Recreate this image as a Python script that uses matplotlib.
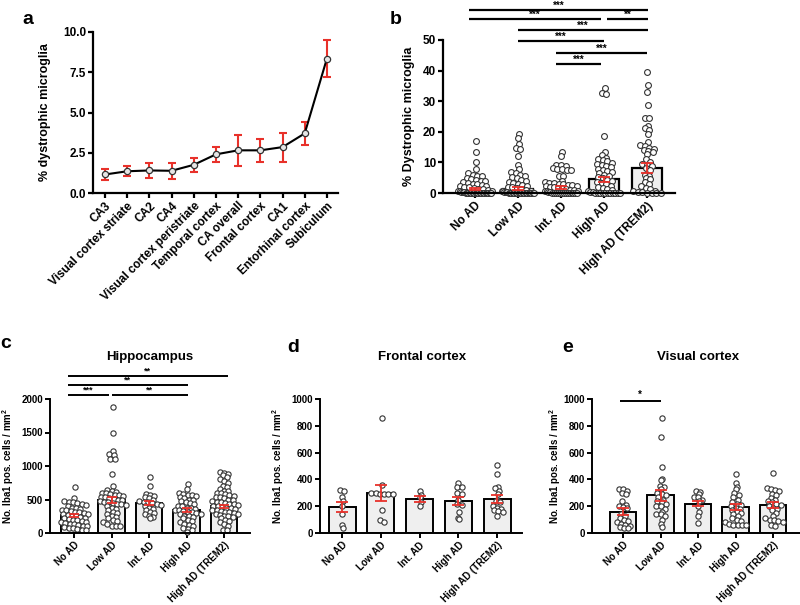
import numpy as np
import matplotlib.pyplot as plt

plt.rcParams['font.family'] = 'Liberation Sans'
plt.rcParams['font.weight'] = 'bold'
plt.rcParams['axes.labelweight'] = 'bold'
plt.rcParams['mathtext.fontset'] = 'custom'
plt.rcParams['mathtext.rm'] = 'Liberation Sans:bold'
plt.rcParams['mathtext.bf'] = 'Liberation Sans:bold'
plt.rcParams['mathtext.default'] = 'rm'

RED = '#e8312a'
BARFACE = '#efefef'

# ---- panel a: dystrophic microglia by region
regions = ['CA3', 'Visual cortex striate', 'CA2', 'CA4', 'Visual cortex peristriate',
           'Temporal cortex', 'CA overall', 'Frontal cortex', 'CA1', 'Entorhinal cortex', 'Subiculum']
region_mean = [1.15, 1.35, 1.4, 1.38, 1.75, 2.4, 2.65, 2.65, 2.85, 3.7, 8.35]
region_sem = [0.37, 0.3, 0.47, 0.5, 0.45, 0.47, 0.95, 0.7, 0.9, 0.7, 1.15]

groups = ['No AD', 'Low AD', 'Int. AD', 'High AD', 'High AD (TREM2)']

# ---- panel b: % dystrophic microglia per case
dys_noad = [17.0, 13.3, 10.2, 8.0, 6.4, 6.0, 5.7, 5.4, 5.0, 4.6, 4.2, 4.0, 3.8, 3.6, 3.3, 3.0,
            2.8, 2.6, 2.4, 2.2, 2.0, 1.8, 1.6, 1.4, 1.2, 1.0, 0.8, 0.6, 0.5, 0.4, 0.3, 0.2, 0.1,
            0.0, 0.0, 0.0, 0.0, 0.0, 0.0, 0.0, 0.0, 0.0, 0.0, 0.0, 0.0, 0.0, 0.0, 0.0, 0.0, 0.0, 0.0]
dys_low = [19.3, 18.0, 16.0, 14.6, 14.4, 12.2, 9.0, 8.0, 6.7, 6.4, 6.0, 5.5, 5.2, 4.8, 4.4, 4.0,
           3.6, 3.2, 3.0, 2.7, 2.4, 2.1, 1.8, 1.5, 1.2, 1.0, 0.8, 0.6, 0.5, 0.4, 0.3, 0.2, 0.1,
           0.0, 0.0, 0.0, 0.0, 0.0, 0.0, 0.0, 0.0, 0.0, 0.0, 0.0, 0.0, 0.0, 0.0, 0.0, 0.0, 0.0, 0.0]
dys_int = [13.5, 12.0, 9.2, 9.0, 8.8, 8.2, 7.9, 7.7, 7.5, 7.4, 5.6, 5.4, 4.0, 3.6, 3.4, 3.2,
           3.0, 2.9, 2.7, 2.5, 2.4, 2.2, 2.0, 1.9, 1.7, 1.5, 1.3, 1.1, 1.0, 0.8, 0.6, 0.5, 0.3,
           0.2, 0.0, 0.0, 0.0, 0.0, 0.0, 0.0, 0.0, 0.0, 0.0, 0.0, 0.0, 0.0, 0.0, 0.0]
dys_high = [34.3, 32.7, 32.5, 18.5, 13.5, 12.3, 11.6, 11.2, 10.8, 10.3, 9.9, 9.5, 9.1, 8.8, 8.5,
            8.0, 7.6, 7.2, 6.8, 6.4, 6.0, 5.6, 5.2, 4.8, 4.4, 4.0, 3.6, 3.2, 2.8, 2.4, 2.0, 1.6,
            1.2, 0.9, 0.6, 0.4, 0.2, 0.0, 0.0, 0.0, 0.0, 0.0, 0.0, 0.0, 0.0, 0.0, 0.0, 0.0]
dys_trem = [39.5, 35.3, 33.0, 28.8, 24.6, 24.4, 22.0, 21.2, 20.5, 19.2, 16.7, 15.6, 15.2, 14.6,
            14.3, 14.0, 13.8, 13.4, 12.6, 11.2, 10.2, 9.6, 9.2, 8.8, 8.2, 7.6, 6.0, 5.6, 5.0,
            4.6, 3.6, 3.0, 2.2, 1.6, 1.2, 0.8, 0.6, 0.4, 0.2, 0.0, 0.0, 0.0, 0.0]
dys_mean = [1.3, 1.4, 1.8, 4.5, 8.2]
dys_sem = [0.35, 0.4, 0.35, 0.8, 1.6]
dys_sig = [(0, 4, '***'), (0, 3, '***'), (3, 4, '**'), (1, 4, '***'),
           (1, 3, '***'), (2, 4, '***'), (2, 3, '***')]

# ---- panel c: hippocampus Iba1 density
hip_noad = [690, 520, 480, 470, 460, 450, 430, 420, 400, 380, 370, 360, 350, 340, 330, 320, 310,
            300, 290, 280, 270, 260, 250, 240, 230, 220, 210, 200, 190, 180, 170, 160, 150, 140,
            130, 120, 110, 100, 90, 80, 70, 60, 50, 40]
hip_low = [1880, 1500, 1230, 1180, 1170, 1110, 1100, 880, 700, 640, 620, 610, 600, 590, 580, 570,
           560, 550, 540, 530, 520, 510, 500, 490, 480, 470, 460, 450, 440, 430, 420, 400, 380,
           360, 340, 320, 300, 280, 260, 240, 220, 200, 180, 160, 140, 110, 100, 100]
hip_int = [840, 700, 580, 560, 550, 540, 520, 500, 480, 470, 460, 450, 440, 420, 400, 380, 360,
           340, 320, 300, 280, 260, 240, 220]
hip_high = [730, 650, 600, 580, 570, 560, 550, 540, 520, 500, 490, 480, 470, 450, 430, 410, 400,
            380, 370, 360, 350, 340, 330, 320, 310, 300, 290, 280, 260, 250, 240, 220, 200, 180,
            160, 140, 120, 100, 80, 60, 40, 20]
hip_trem = [910, 900, 880, 860, 830, 800, 770, 750, 700, 680, 650, 630, 620, 600, 590, 580, 560,
            550, 540, 530, 520, 500, 490, 480, 470, 460, 450, 440, 430, 420, 410, 400, 390, 380,
            370, 360, 350, 340, 330, 320, 310, 300, 290, 280, 270, 260, 250, 240, 220, 200, 180,
            160, 140, 100, 50, 40]
hip_mean = [265, 490, 450, 345, 400]
hip_sem = [25, 45, 35, 25, 20]
hip_sig = [(0, 4, '**'), (0, 3, '**'), (0, 1, '***'), (1, 3, '**')]

# ---- panel d: frontal cortex
fro_noad = [320, 310, 270, 240, 200, 140, 60, 35]
fro_low = [855, 360, 300, 295, 292, 290, 290, 288, 170, 95, 85]
fro_int = [315, 280, 270, 230, 205]
fro_high = [375, 345, 340, 300, 290, 250, 220, 210, 160, 115, 105]
fro_trem = [505, 440, 340, 335, 310, 290, 250, 240, 230, 200, 190, 180, 170, 165, 160, 130]
fro_mean = [195, 300, 255, 240, 255]
fro_sem = [38, 60, 20, 30, 30]

# ---- panel e: visual cortex
vis_noad = [330, 325, 310, 300, 290, 240, 210, 200, 195, 185, 140, 130, 110, 100, 90, 80, 70,
            60, 50, 45, 40, 40]
vis_low = [855, 715, 495, 405, 395, 350, 340, 330, 300, 290, 280, 270, 250, 240, 230, 220, 200,
           200, 180, 160, 140, 140, 130, 100, 70, 45]
vis_int = [310, 305, 290, 270, 265, 250, 240, 200, 160, 130, 75]
vis_high = [440, 370, 340, 330, 300, 280, 270, 250, 230, 220, 210, 200, 190, 180, 170, 160, 150,
            140, 130, 110, 100, 90, 80, 70, 60, 60, 60, 60]
vis_trem = [450, 335, 325, 320, 310, 290, 280, 260, 250, 240, 230, 220, 210, 200, 190, 180, 170,
            150, 130, 110, 100, 95, 90, 85, 60, 55]
vis_mean = [160, 280, 220, 195, 210]
vis_sem = [25, 40, 22, 22, 20]
vis_sig = [(0, 1, '*')]


W, H = 800, 605
fig = plt.figure(figsize=(W / 100, H / 100), dpi=100)


def px_axes(left, top, right, bottom):
    return fig.add_axes([left / W, 1 - bottom / H, (right - left) / W, (bottom - top) / H])


def style(ax, lw, fs):
    for s in ['top', 'right']:
        ax.spines[s].set_visible(False)
    for s in ['left', 'bottom']:
        ax.spines[s].set_linewidth(lw)
    ax.tick_params(width=lw, length=3.5, labelsize=fs, pad=1.5)


def swarm_x(vals, x0, yrange, ax_px, cat_px, dot_px, max_half):
    vals = np.asarray(vals, dtype=float)
    dy = yrange * dot_px / ax_px
    bins = np.round(vals / dy).astype(int)
    xs = np.zeros(len(vals))
    for b in np.unique(bins):
        idx = np.where(bins == b)[0]
        n = len(idx)
        step = dot_px / cat_px
        if n > 1 and step * (n - 1) / 2 > max_half:
            step = 2 * max_half / (n - 1)
        offs = (np.arange(n) - (n - 1) / 2) * step
        if b % 2:
            offs = offs + step * 0.25
        xs[idx] = x0 + offs
    return xs


def bar_panel(ax, data, means, sems, ylim, yticks, ax_px, cat_px, dot_px, ms, lw, fs, capsize):
    x = np.arange(len(groups))
    ax.bar(x, means, width=0.7, color=BARFACE, edgecolor='black', linewidth=lw, zorder=1)
    for i, vals in enumerate(data):
        xs = swarm_x(vals, i, ylim[1] - ylim[0], ax_px, cat_px, dot_px, 0.38)
        ax.plot(xs, vals, 'o', ms=ms, mfc='white', mec='#333333', mew=0.8,
                zorder=2, clip_on=False)
    ax.errorbar(x, means, yerr=sems, fmt='none', ecolor=RED, elinewidth=1.3,
                capsize=capsize, capthick=1.3, zorder=3)
    ax.set_ylim(*ylim)
    ax.set_yticks(yticks)
    ax.set_xticks(x)
    ax.set_xticklabels(groups, rotation=45, ha='right', rotation_mode='anchor')
    style(ax, lw, fs)


def sig_lines(ax, sigs, levels, trims, lw, fs, dy):
    for (i, j, lab), lev, (t0, t1) in zip(sigs, levels, trims):
        x0, x1 = i + t0, j + t1
        ax.plot([x0, x1], [lev, lev], color='black', lw=lw, clip_on=False,
                solid_capstyle='butt')
        ax.text((x0 + x1) / 2, lev + dy, lab, ha='center', va='bottom', fontsize=fs,
                fontweight='bold')


# ---------------- panel a
ax_a = px_axes(93, 32, 338, 193)
xa = np.arange(len(regions))
ax_a.errorbar(xa, region_mean, yerr=region_sem, fmt='none', ecolor=RED, elinewidth=1.5,
              capsize=3, capthick=1.5, zorder=2)
ax_a.plot(xa, region_mean, '-o', color='black', lw=1.5, ms=4.5, mfc='#e6e6e6',
          mec='#333333', mew=0.9, zorder=3)
ax_a.set_xlim(-0.54, 10.5)
ax_a.set_ylim(0, 10)
ax_a.set_yticks([0, 2.5, 5, 7.5, 10])
ax_a.set_yticklabels(['0.0', '2.5', '5.0', '7.5', '10.0'])
ax_a.set_xticks(xa)
ax_a.set_xticklabels(regions, rotation=45, ha='right', rotation_mode='anchor')
style(ax_a, 1.6, 8.5)
ax_a.set_ylabel('% dystrophic microglia', fontsize=9)
ax_a.yaxis.set_label_coords(-0.17, 0.5)

# ---------------- panel b
ax_b = px_axes(443, 40, 675, 193)
bar_panel(ax_b, [dys_noad, dys_low, dys_int, dys_high, dys_trem], dys_mean, dys_sem,
          (0, 50), [0, 10, 20, 30, 40, 50], 153, 43, 4.6, 4.2, 1.6, 8.5, 4.5)
ax_b.set_xlim(-0.74, 4.65)
ax_b.set_ylabel('% Dystrophic microglia', fontsize=9)
ax_b.yaxis.set_label_coords(-0.12, 0.5)
sig_lines(ax_b, dys_sig, [59.8, 56.9, 56.9, 53.2, 49.7, 45.8, 42.2],
          [(-0.14, 0.02), (-0.14, -0.07), (0.07, 0.02), (0.0, 0.02), (0.0, 0.0),
           (-0.12, 0.0), (-0.12, -0.07)], 1.6, 7, -0.3)

# ---------------- panel c
ax_c = px_axes(50, 399, 250, 533)
bar_panel(ax_c, [hip_noad, hip_low, hip_int, hip_high, hip_trem], hip_mean, hip_sem,
          (0, 2000), [0, 500, 1000, 1500, 2000], 134, 37.5, 4.3, 3.8, 1.4, 7, 3.5)
ax_c.set_xlim(-0.64, 4.69)
ax_c.set_ylabel('No. Iba1 pos. cells / mm$^{2}$', fontsize=7)
ax_c.yaxis.set_label_coords(-0.17, 0.5)
sig_lines(ax_c, hip_sig, [2343, 2209, 2060, 2060],
          [(-0.16, 0.1), (-0.16, 0.03), (-0.16, -0.08), (0.0, 0.03)], 1.4, 6.5, 5)

# ---------------- panel d
ax_d = px_axes(320, 399, 522, 533)
bar_panel(ax_d, [fro_noad, fro_low, fro_int, fro_high, fro_trem], fro_mean, fro_sem,
          (0, 1000), [0, 200, 400, 600, 800, 1000], 134, 39, 4.3, 3.8, 1.4, 7, 4)
ax_d.set_xlim(-0.57, 4.64)
ax_d.set_ylabel('No. Iba1 pos. cells / mm$^{2}$', fontsize=7)
ax_d.yaxis.set_label_coords(-0.17, 0.5)

# ---------------- panel e
ax_e = px_axes(592, 399, 800, 533)
bar_panel(ax_e, [vis_noad, vis_low, vis_int, vis_high, vis_trem], vis_mean, vis_sem,
          (0, 1000), [0, 200, 400, 600, 800, 1000], 134, 37.5, 4.3, 3.8, 1.4, 7, 4)
ax_e.set_xlim(-0.83, 4.72)
ax_e.set_ylabel('No. Iba1 pos. cells / mm$^{2}$', fontsize=7)
ax_e.yaxis.set_label_coords(-0.14, 0.5)
sig_lines(ax_e, vis_sig, [985], [(-0.08, 0.0)], 1.4, 7, 5)

# panel letters and titles
for lab, x, y in [('a', 28, 20), ('b', 396, 19), ('c', 6, 344), ('d', 293, 347), ('e', 568, 348)]:
    fig.text(x / W, 1 - y / H, lab, ha='center', va='center', fontsize=14, fontweight='bold')
for t, x in [('Hippocampus', 150), ('Frontal cortex', 422), ('Visual cortex', 698)]:
    fig.text(x / W, 1 - 357 / H, t, ha='center', va='center', fontsize=9.5, fontweight='bold')

fig.savefig('out.png', dpi=100)
